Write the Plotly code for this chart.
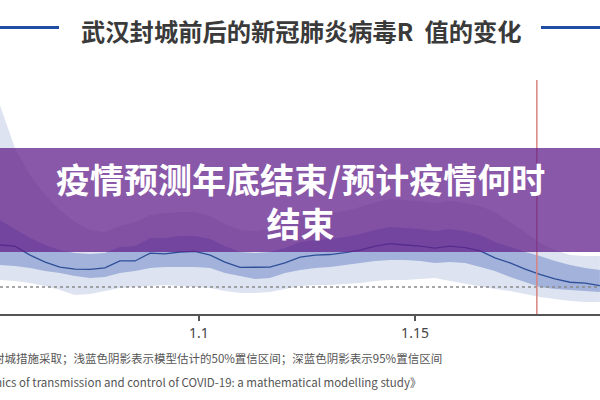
import plotly.graph_objects as go

# x positions (axis values as shown by the tick labels)
x_vals = [1.0539, 1.0574, 1.0609, 1.0644, 1.0678, 1.0713, 1.0748, 1.0782, 1.0817, 1.0852,
          1.0887, 1.0921, 1.0956, 1.0991, 1.1026, 1.1060, 1.1095, 1.1130, 1.1164, 1.1199,
          1.1234, 1.1269, 1.1303, 1.1338, 1.1373, 1.1408, 1.1442, 1.1477, 1.1512, 1.1546,
          1.1581, 1.1616, 1.1651, 1.1685, 1.1720, 1.1755, 1.1789, 1.1824, 1.1859, 1.1894,
          1.1928]

r_median = [2.50, 2.46, 2.14, 1.89, 1.71, 1.64, 1.63, 1.68, 1.93, 1.93,
            2.21, 2.18, 2.25, 2.27, 2.14, 1.89, 1.70, 1.70, 1.71, 1.86,
            2.07, 2.14, 2.16, 2.23, 2.32, 2.46, 2.55, 2.50, 2.46, 2.39,
            2.46, 2.41, 2.29, 2.04, 1.86, 1.64, 1.45, 1.29, 1.17, 1.14,
            1.05]

r_lo50 = [1.79, 1.75, 1.68, 1.57, 1.50, 1.39, 1.32, 1.36, 1.50, 1.57,
          1.68, 1.71, 1.71, 1.71, 1.68, 1.50, 1.39, 1.29, 1.32, 1.50,
          1.61, 1.68, 1.71, 1.79, 1.86, 1.93, 1.96, 1.96, 1.93, 1.86,
          1.89, 1.86, 1.71, 1.57, 1.36, 1.18, 1.00, 0.93, 0.89, 0.86,
          0.82]

r_hi50 = [3.39, 3.07, 2.75, 2.50, 2.32, 2.21, 2.18, 2.21, 2.43, 2.46,
          2.75, 2.75, 2.82, 2.82, 2.71, 2.46, 2.25, 2.21, 2.25, 2.39,
          2.61, 2.68, 2.71, 2.79, 2.89, 3.04, 3.14, 3.11, 3.07, 3.00,
          3.07, 3.00, 2.86, 2.61, 2.43, 2.25, 2.11, 1.93, 1.79, 1.68,
          1.61]

r_lo95 = [1.25, 1.21, 1.14, 1.04, 0.89, 0.71, 0.75, 0.86, 0.96, 1.00,
          1.04, 1.07, 1.04, 1.00, 0.96, 0.86, 0.79, 0.79, 0.82, 0.93,
          1.04, 1.07, 1.07, 1.11, 1.14, 1.21, 1.25, 1.25, 1.29, 1.32,
          1.21, 1.11, 1.00, 0.93, 0.86, 0.75, 0.64, 0.57, 0.50, 0.46,
          0.46]

r_hi95 = [7.50, 5.96, 5.00, 4.29, 3.75, 3.32, 3.04, 2.96, 3.18, 3.32,
          3.57, 3.64, 3.68, 3.68, 3.54, 3.25, 3.04, 3.00, 3.07, 3.29,
          3.50, 3.57, 3.64, 3.71, 3.86, 4.04, 4.14, 4.11, 4.07, 4.00,
          4.07, 4.00, 3.89, 3.68, 3.32, 2.96, 2.57, 2.32, 2.14, 2.11,
          2.11]

lockdown_x = 1.1782
threshold_r = 1.0
tick_vals = [1.1, 1.15]
tick_text = ["1.1", "1.15"]

chart_title = "武汉封城前后的新冠肺炎病毒R  值的变化"
banner_lines = ["疫情预测年底结束/预计疫情何时", "结束"]
note_line1 = "注：红线表示武汉封城措施采取；浅蓝色阴影表示模型估计的50%置信区间；深蓝色阴影表示95%置信区间"
note_line2 = "来源：《Early dynamics of transmission and control of COVID-19: a mathematical modelling study》"

CJK = "Noto Sans CJK SC"
fig = go.Figure()

fig.add_trace(go.Scatter(x=x_vals, y=r_hi95, mode="lines", line=dict(width=0),
                         hoverinfo="skip", showlegend=False))
fig.add_trace(go.Scatter(x=x_vals, y=r_lo95, mode="lines", line=dict(width=0),
                         fill="tonexty", fillcolor="#dde3f0", hoverinfo="skip", showlegend=False))
fig.add_trace(go.Scatter(x=x_vals, y=r_hi50, mode="lines", line=dict(width=0),
                         hoverinfo="skip", showlegend=False))
fig.add_trace(go.Scatter(x=x_vals, y=r_lo50, mode="lines", line=dict(width=0),
                         fill="tonexty", fillcolor="#a2b2da", hoverinfo="skip", showlegend=False))
fig.add_trace(go.Scatter(x=x_vals, y=r_median, mode="lines",
                         line=dict(color="#2e4f98", width=1.3), showlegend=False))

shapes = [
    dict(type="line", xref="paper", yref="y", x0=0, x1=1, y0=threshold_r, y1=threshold_r,
         line=dict(color="#8a8a8a", width=1.5, dash="3px,3px")),
    dict(type="line", xref="x", yref="paper", x0=lockdown_x, x1=lockdown_x, y0=0, y1=1,
         line=dict(color="#d9847e", width=1.5)),
    # banner
    dict(type="rect", xref="paper", yref="paper", x0=0, x1=1,
         y0=(314 - 252) / 234, y1=(314 - 148) / 234,
         fillcolor="rgba(99,32,139,0.75)", line=dict(width=0)),
    # title side rules
    dict(type="line", xref="paper", yref="paper", x0=0, x1=59 / 600,
         y0=(314 - 27.5) / 234, y1=(314 - 27.5) / 234, line=dict(color="#1f4ea3", width=3)),
    dict(type="line", xref="paper", yref="paper", x0=541 / 600, x1=1,
         y0=(314 - 27.5) / 234, y1=(314 - 27.5) / 234, line=dict(color="#1f4ea3", width=3)),
]

annotations = [
    dict(text="<b>" + chart_title + "</b>", xref="paper", yref="paper", x=0.502,
         y=(314 - 30) / 234, xanchor="center", yanchor="middle", showarrow=False,
         font=dict(family=CJK, size=24.3, color="#3a3a3a")),
    dict(text="<b>" + "<br>".join(banner_lines) + "</b>", xref="paper", yref="paper", x=0.5,
         y=(314 - 200) / 234, xanchor="center", yanchor="middle", showarrow=False,
         align="center", font=dict(family=CJK, size=34, color="white")),
    dict(text=note_line1, xref="paper", yref="paper", x=444 / 600,
         y=(314 - 358) / 234, xanchor="right", yanchor="middle", showarrow=False,
         font=dict(family=CJK, size=11.5, color="#555555")),
    dict(text=note_line2, xref="paper", yref="paper", x=423 / 600,
         y=(314 - 382) / 234, xanchor="right", yanchor="middle", showarrow=False,
         font=dict(family=CJK, size=11.5, color="#555555")),
]

fig.update_layout(
    width=600, height=400,
    margin=dict(l=0, r=0, t=80, b=86),
    paper_bgcolor="white", plot_bgcolor="white",
    shapes=shapes, annotations=annotations,
    xaxis=dict(range=[1.05394, 1.19282], showgrid=False, zeroline=False,
               showline=True, linecolor="#555555", linewidth=1.5,
               ticks="outside", ticklen=5, tickcolor="#555555", tickwidth=1.5,
               tickvals=tick_vals, ticktext=tick_text,
               tickfont=dict(family="Noto Sans", size=14, color="#444444")),
    yaxis=dict(range=[0.0357, 0.0357 + 234 / 28], visible=False, showgrid=False, zeroline=False),
    showlegend=False,
)

fig.write_html("out.html")
